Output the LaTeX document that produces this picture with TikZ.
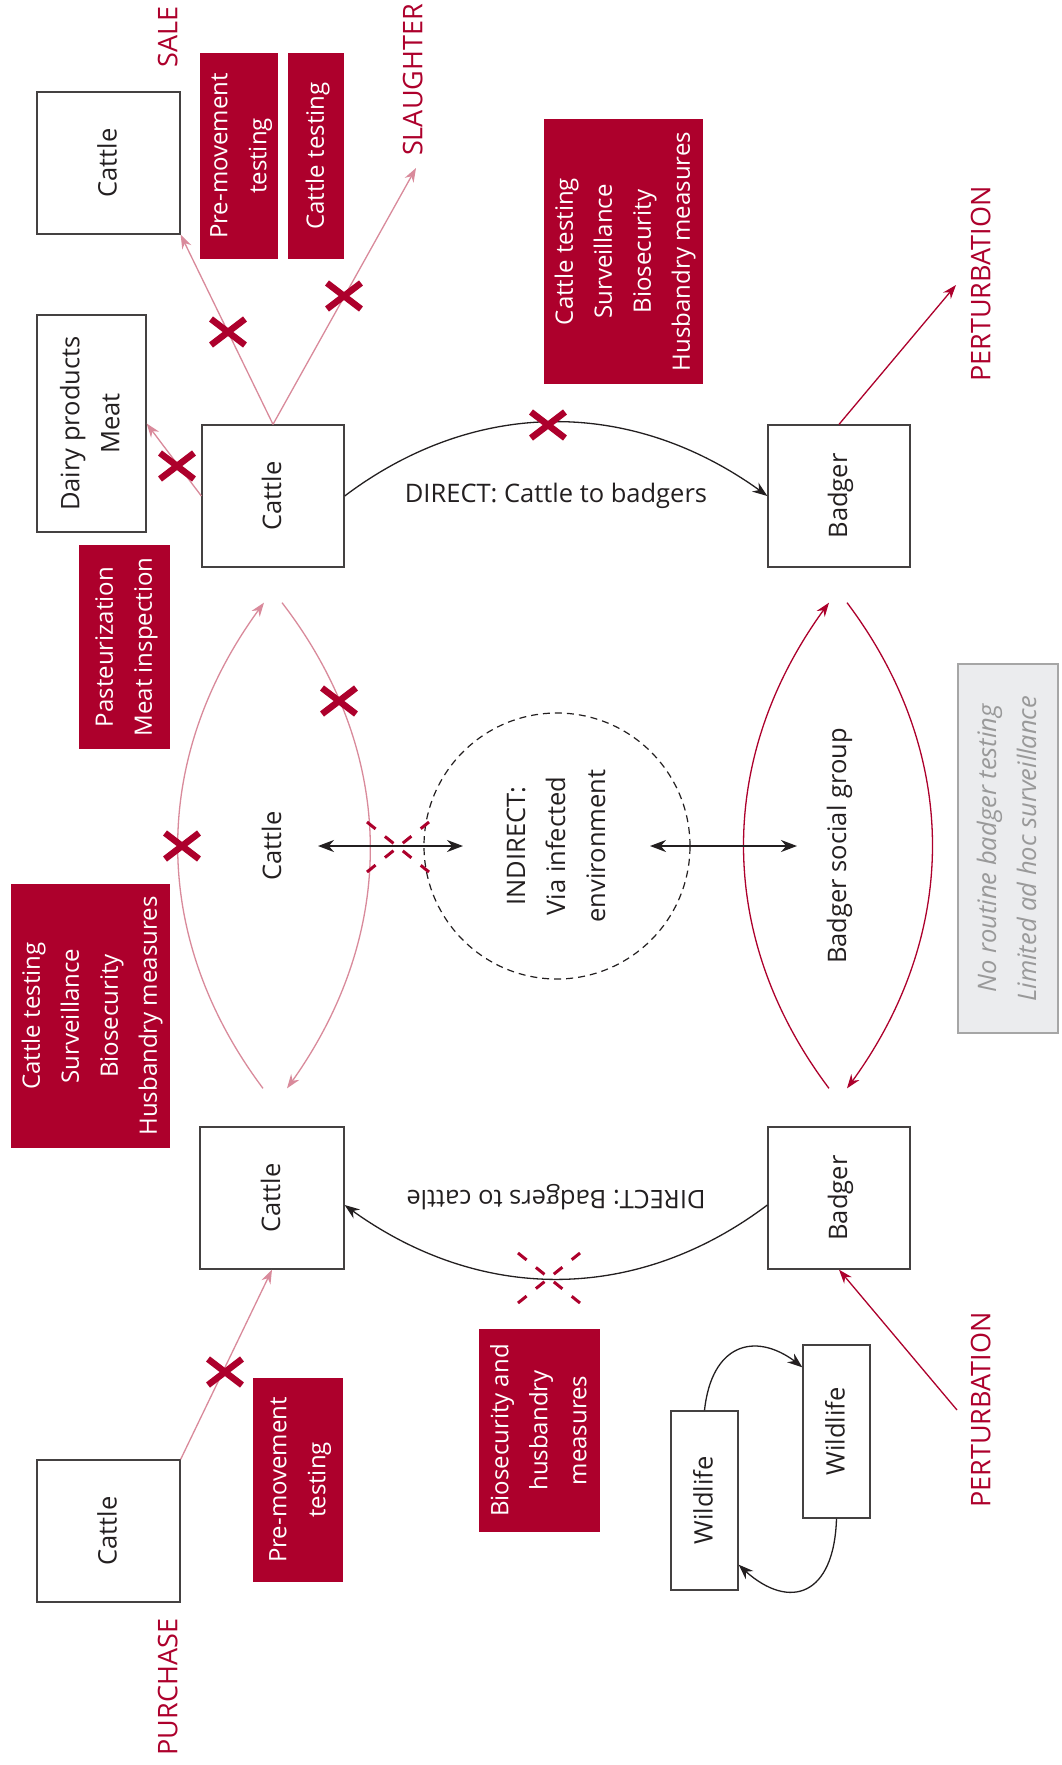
\documentclass[tikz,border=0pt]{standalone}
\usepackage{graphicx}
\usepackage{xcolor}
\usepackage{fontspec}
\setmainfont{Open Sans}
\usepackage{tikz}
\usetikzlibrary{arrows.meta,bending}

\definecolor{bred}{RGB}{173,0,44}
\definecolor{bpink}{RGB}{217,138,155}
\definecolor{bgrey}{RGB}{235,236,238}
\definecolor{ink}{RGB}{35,31,32}
\newcommand{\vt}[1]{\rotatebox{90}{\begin{tabular}{@{}c@{}}#1\end{tabular}}}
\tikzset{
box/.style={draw=ink!85,line width=1.3pt,fill=white,inner sep=0pt},
redbox/.style={fill=bred,text=white,inner sep=0pt,font=\fontsize{24}{39}\selectfont},
redlbl/.style={text=bred,inner sep=0pt,font=\fontsize{27}{32}\selectfont},
greybox/.style={draw=black!35,line width=1.8pt,fill=bgrey,text=black!40,inner sep=0pt},
envc/.style={circle,draw=ink,dash pattern=on 7pt off 5pt,line width=1.2pt,inner sep=0pt,minimum size=266pt},
pinkarr/.style={bpink,line width=1.3pt,-{Stealth[length=14pt,width=10pt]}},
redarr/.style={bred,line width=1.3pt,-{Stealth[length=14pt,width=10pt]}},
blkarr/.style={ink,line width=1.3pt,-{Stealth[length=15pt,width=11pt]}},
dblarr/.style={ink,line width=2pt,{Stealth[length=16pt,width=12pt]}-{Stealth[length=16pt,width=12pt]}},
xmark/.pic={\draw[bred,line width=6.5pt](-17,-13)--(17,13)(-17,13)--(17,-13);},
xdash/.pic={\draw[bred,line width=3pt,dash pattern=on 11pt off 12pt](-31,-25)--(31,25)(-31,25)--(31,-25);}
}

\begin{document}
\begin{tikzpicture}[x=1pt,y=-1pt,font=\fontsize{25.5}{40}\selectfont,text=ink]
\fill[white](0,0)rectangle(1061,1765);
\useasboundingbox(0,0)rectangle(1061,1765);

% boxes
\node[box,minimum width=143pt,minimum height=142pt](cSale)at(108.5,163){\vt{Cattle}};
\node[box,minimum width=109pt,minimum height=217pt](dairy)at(91.5,423.5){\vt{Dairy products\\Meat}};
\node[box,minimum width=142pt,minimum height=142pt](cMain)at(273,496){\vt{Cattle}};
\node[box,minimum width=142pt,minimum height=142pt](bTop)at(839,496){\vt{Badger}};
\node[box,minimum width=144pt,minimum height=142pt](cBot)at(272,1198){\vt{Cattle}};
\node[box,minimum width=142pt,minimum height=142pt](bBot)at(839,1198){\vt{Badger}};
\node[box,minimum width=143pt,minimum height=142pt](cBuy)at(108.5,1531){\vt{Cattle}};
\node[box,minimum width=67pt,minimum height=179pt](wild1)at(704.5,1500.5){\vt{Wildlife}};
\node[box,minimum width=67pt,minimum height=173pt](wild2)at(836.5,1431.5){\vt{Wildlife}};

% control measures
\node[redbox,minimum width=78pt,minimum height=206pt](pmSale)at(239,156){\vt{Pre-movement\\testing}};
\node[redbox,minimum width=56pt,minimum height=206pt](ctSlaughter)at(316,156){\vt{Cattle testing}};
\node[redbox,minimum width=159pt,minimum height=265pt](ctrlTop)at(623.5,251.5){\vt{Cattle testing\\Surveillance\\Biosecurity\\Husbandry measures}};
\node[redbox,minimum width=91pt,minimum height=204pt](food)at(124.5,647){\vt{Pasteurization\\Meat inspection}};
\node[redbox,minimum width=159pt,minimum height=264pt](ctrlLeft)at(90.5,1016){\vt{Cattle testing\\Surveillance\\Biosecurity\\Husbandry measures}};
\node[redbox,minimum width=121pt,minimum height=203pt](biohus)at(539.5,1430.5){\vt{Biosecurity and\\husbandry\\measures}};
\node[redbox,minimum width=90pt,minimum height=204pt](pmBuy)at(298,1480){\vt{Pre-movement\\testing}};
\node[greybox,minimum width=100pt,minimum height=369pt](noTest)at(1008,848.5){\vt{\itshape No routine badger testing\\\itshape Limited ad hoc surveillance}};

\node[redlbl](sale)at(171,37){\vt{SALE}};
\node[redlbl](slaughter)at(416,80){\vt{SLAUGHTER}};
\node[redlbl](pertTop)at(984,284){\vt{PERTURBATION}};
\node[redlbl](pertBot)at(984,1410){\vt{PERTURBATION}};
\node[redlbl](purchase)at(171,1687){\vt{PURCHASE}};

\node(cLbl)at(273,846){\vt{Cattle}};
\node[envc](env)at(557,846){\vt{INDIRECT:\\Via infected\\environment}};
\node(bsg)at(838,846){\vt{Badger social group}};
\node(dirTop)at(556,496){DIRECT: Cattle to badgers};
\node[rotate=180](dirBot)at(556,1197){DIRECT: Badgers to cattle};

\coordinate(slTip)at(416,168);
\coordinate(ptTip)at(956,285);
\coordinate(pbTail)at(957,1410);

% movements
\draw[pinkarr](cMain.north)--(cSale.south east);
\draw[pinkarr](cMain.north)--(slTip);
\draw[pinkarr](cMain.west)--(dairy.east);
\draw[pinkarr](cBuy.north east)--(cBot.south);
\draw[redarr](bTop.north)--(ptTip);
\draw[redarr](pbTail)--(bBot.south);

% within herd / social group
\draw[pinkarr]([xshift=-9pt,yshift=38pt]cBot.north)to[bend left=37]([xshift=-9pt,yshift=-35pt]cMain.south);
\draw[pinkarr]([xshift=9pt,yshift=-35pt]cMain.south)to[bend left=37]([xshift=15pt,yshift=38pt]cBot.north);
\draw[redarr]([xshift=-10pt,yshift=38pt]bBot.north)to[bend left=37]([xshift=-10pt,yshift=-35pt]bTop.south);
\draw[redarr]([xshift=8pt,yshift=-35pt]bTop.south)to[bend left=37]([xshift=8pt,yshift=38pt]bBot.north);

\draw[blkarr](cMain.east)to[bend left=37](bTop.west);
\draw[blkarr]([yshift=-7pt]bBot.west)to[bend left=37]([yshift=-7pt]cBot.east);
\draw[dblarr]([xshift=45pt]cLbl.center)--([xshift=-94pt]env.center);
\draw[dblarr]([xshift=93pt]env.center)--([xshift=-41pt]bsg.center);

\draw[blkarr](wild1.north)..controls(712,1340)and(760,1330)..([yshift=-23pt]wild2.north west);
\draw[blkarr](wild2.south)..controls(834,1600)and(785,1612)..([yshift=26pt]wild1.south east);

% barriers
\pic at(228,332){xmark};
\pic at(344,296){xmark};
\pic at(177,466){xmark};
\pic at(225,1372){xmark};
\pic at(182,846){xmark};
\pic at(339,701){xmark};
\pic at(548,425){xmark};
\pic at(398,847){xdash};
\pic at(549,1278){xdash};
\end{tikzpicture}
\end{document}
